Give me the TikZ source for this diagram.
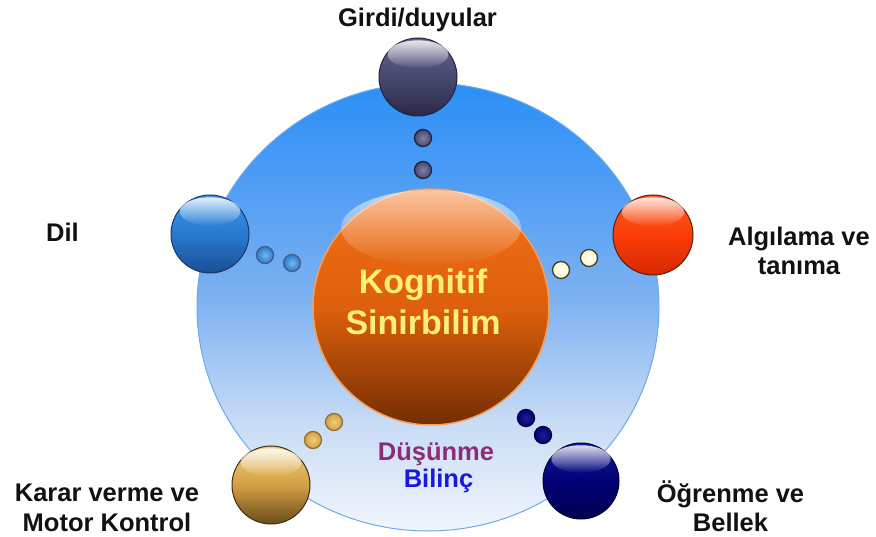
\documentclass[tikz,border=0pt]{standalone}
\usepackage{fontspec}
\setmainfont{Liberation Sans}
\usetikzlibrary{fadings}

% palette
\definecolor{discA}{RGB}{42,143,247}
\definecolor{discB}{RGB}{85,160,245}
\definecolor{discC}{RGB}{125,178,240}
\definecolor{discD}{RGB}{200,220,246}
\definecolor{discE}{RGB}{242,246,252}
\definecolor{discline}{RGB}{110,170,232}

\definecolor{coreTop}{RGB}{242,112,22}
\definecolor{coreMid}{RGB}{222,96,12}
\definecolor{coreBot}{RGB}{115,45,0}
\definecolor{coreEdge}{RGB}{245,160,90}

\definecolor{girdiTop}{RGB}{98,98,142}
\definecolor{girdiMid}{RGB}{72,72,112}
\definecolor{girdiBot}{RGB}{42,40,72}
\definecolor{girdiEdge}{RGB}{35,35,60}

\definecolor{dilTop}{RGB}{62,150,232}
\definecolor{dilMid}{RGB}{40,122,208}
\definecolor{dilBot}{RGB}{28,78,148}
\definecolor{dilEdge}{RGB}{25,55,100}

\definecolor{algTop}{RGB}{255,95,35}
\definecolor{algMid}{RGB}{250,60,8}
\definecolor{algBot}{RGB}{215,40,0}
\definecolor{algEdge}{RGB}{90,30,10}

\definecolor{kararTop}{RGB}{240,205,125}
\definecolor{kararMid}{RGB}{212,160,68}
\definecolor{kararBot}{RGB}{105,75,28}
\definecolor{kararEdge}{RGB}{60,45,20}

\definecolor{ogrTop}{RGB}{30,30,150}
\definecolor{ogrMid}{RGB}{0,0,118}
\definecolor{ogrBot}{RGB}{0,0,80}
\definecolor{ogrEdge}{RGB}{0,0,50}

\definecolor{labelInk}{RGB}{17,17,17}
\definecolor{coreText}{RGB}{250,240,120}
\definecolor{thinkText}{RGB}{140,45,120}
\definecolor{awareText}{RGB}{25,25,220}

% soft vertical blue wash of the backdrop disc
\pgfdeclareverticalshading{discshade}{100bp}{%
  color(0bp)=(discE); color(25bp)=(discE); color(37bp)=(discD);
  color(51bp)=(discC); color(62bp)=(discB); color(75bp)=(discA);
  color(100bp)=(discA)}

% glossy highlight: opaque at the top, clear at the bottom
\tikzfading[name=glossfade, top color=transparent!15, bottom color=transparent!100]

\tikzset{
  orb/.style={circle, inner sep=0pt, line width=1pt},
  bead/.style={circle, inner sep=0pt, minimum size=17pt, line width=1.3pt},
  lbl/.style={font=\fontsize{25.5}{29.5}\selectfont\bfseries, text=labelInk, align=center, inner sep=0pt},
}

% #1 name, #2 x, #3 y, #4 radius, #5 top, #6 middle, #7 bottom, #8 edge
\newcommand\glossorb[8]{%
  \node[orb, minimum size={2*#4*1pt}, top color=#5, bottom color=#7,
        middle color=#6, draw=#8] (#1) at (#2,#3) {};
  \fill[white, path fading=glossfade] (#2,{#3-0.58*#4})
     ellipse [x radius={0.78*#4*1pt}, y radius={0.36*#4*1pt}];
}

\begin{document}
\begin{tikzpicture}[x=1pt, y=-1pt]
  \fill[white] (0,0) rectangle (876,537);
  \useasboundingbox (0,0) rectangle (876,537);

  % backdrop disc
  \shade[shading=discshade, draw=discline, line width=1pt]
    (428,307) ellipse [x radius=231pt, y radius=224pt];

  % central sphere
  \node[orb, minimum size=236pt, top color=coreTop, bottom color=coreBot,
        middle color=coreMid, draw=coreEdge, line width=1.5pt] (core) at (431,307) {};
  \fill[white, path fading=glossfade, fill opacity=0.7] (431,228)
     ellipse [x radius=90pt, y radius=38pt];

  % outer spheres
  \glossorb{girdi}{418}{77}{39}{girdiTop}{girdiMid}{girdiBot}{girdiEdge}
  \glossorb{dil}{210}{234}{39}{dilTop}{dilMid}{dilBot}{dilEdge}
  \glossorb{alg}{653}{235}{40}{algTop}{algMid}{algBot}{algEdge}
  \glossorb{karar}{271}{485}{39}{kararTop}{kararMid}{kararBot}{kararEdge}
  \glossorb{ogr}{581}{481}{38}{ogrTop}{ogrMid}{ogrBot}{ogrEdge}

  % stepping beads between the core and each sphere
  \node[bead, inner color=girdiTop!80!white, outer color=girdiMid, draw=girdiEdge] (g1) at (423,138) {};
  \node[bead, inner color=girdiTop!80!white, outer color=girdiMid, draw=girdiEdge] (g2) at (423,170) {};
  \node[bead, inner color=dilTop!70!white, outer color=dilMid, draw=dilEdge!80] (d1) at (265,255) {};
  \node[bead, inner color=dilTop!70!white, outer color=dilMid, draw=dilEdge!80] (d2) at (292,263) {};
  \node[bead, inner color=white, outer color={rgb,255:red,255;green,246;blue,195}, draw={rgb,255:red,70;green,60;blue,35}] (a1) at (561,270) {};
  \node[bead, inner color=white, outer color={rgb,255:red,255;green,246;blue,195}, draw={rgb,255:red,70;green,60;blue,35}] (a2) at (589,258) {};
  \node[bead, inner color=kararTop, outer color=kararMid, draw=kararMid!70!black] (k1) at (313,440) {};
  \node[bead, inner color=kararTop, outer color=kararMid, draw=kararMid!70!black] (k2) at (334,422) {};
  \node[bead, inner color=ogrTop, outer color=ogrMid, draw=ogrEdge] (o1) at (526,418) {};
  \node[bead, inner color=ogrTop, outer color=ogrMid, draw=ogrEdge] (o2) at (543,435) {};

  % labels
  \node[lbl, anchor=base] (girdiL) at (417.5,27) {Girdi/duyular};
  \node[lbl, anchor=base] (dilL) at (62.5,242) {Dil};
  \node[lbl] (algL) at (799,251) {Algılama ve\\tanıma};
  \node[lbl] (kararL) at (107,508) {Karar verme ve\\Motor Kontrol};
  \node[lbl] (ogrL) at (730.5,506) {Öğrenme ve\\Bellek};

  \node[font=\fontsize{34}{41}\selectfont\bfseries, text=coreText, align=center, inner sep=0pt]
    (coreL) at (423,302) {Kognitif\\Sinirbilim};
  \node[lbl, text=thinkText, anchor=base] (thinkL) at (436,460) {Düşünme};
  \node[lbl, text=awareText, anchor=base] (awareL) at (438.5,487) {Bilinç};
\end{tikzpicture}
\end{document}
